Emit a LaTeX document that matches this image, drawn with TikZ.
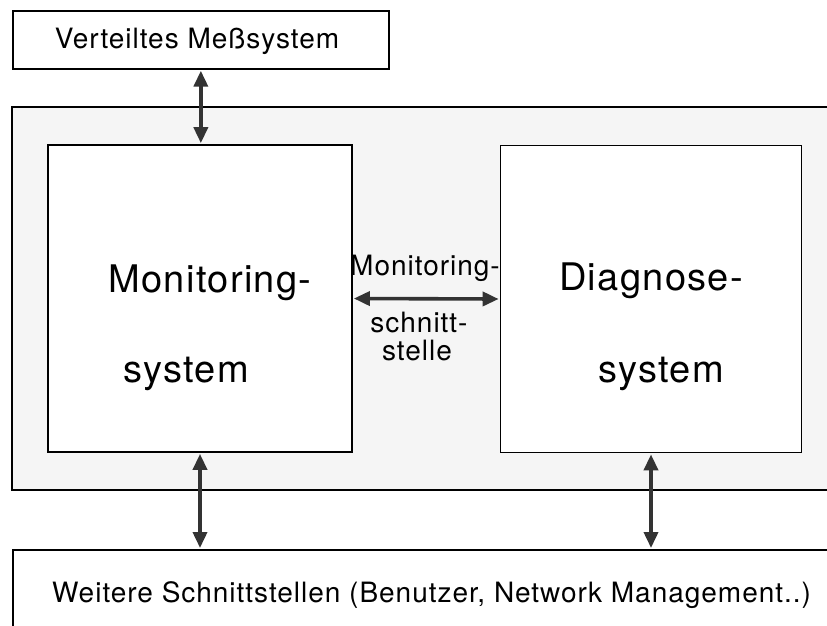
\documentclass[tikz,border=0pt]{standalone}
\usepackage{fontspec}
\setmainfont{TeX Gyre Heros}[LetterSpace=3.5]
\usetikzlibrary{arrows.meta}

\tikzset{
  box/.style={draw, line width=1.7pt, fill=white},
  dpfeil/.style={{Triangle[width=14pt,length=16pt]}-{Triangle[width=14pt,length=16pt]}, line width=3.6pt, draw=black!80, shorten >=1pt, shorten <=1pt},
  gross/.style={font=\fontsize{38pt}{38pt}\selectfont, anchor=base, inner sep=0pt},
  mittel/.style={font=\fontsize{28pt}{28pt}\selectfont, anchor=base, inner sep=0pt}
}

\begin{document}
\begin{tikzpicture}[x=1pt,y=-1pt]
  \useasboundingbox (0,0) rectangle (827,625);
  \clip (0,0) rectangle (827,625);
  \fill[black!4] (12,107) rectangle (860,490);
  \draw[line width=1.7pt] (860,107) -- (12,107) -- (12,490) -- (860,490);

  \node[box, minimum width=376pt, minimum height=58pt, anchor=north west] (mess) at (12,10) {};
  \node[box, minimum width=304pt, minimum height=307pt] (mon) at (200,298.5) {};
  \node[box, minimum width=301pt, minimum height=307pt] (diag) at (651,299) {};
  \node[box, minimum width=900pt, minimum height=120pt, anchor=north west] (weitere) at (12,549) {};

  \node[mittel] (messtext) at (197,48) {Verteiltes Meßsystem};
  \node[gross] (mon1) at (210,292) {Monitoring-};
  \node[gross] (mon2) at (186,382) {system};
  \node[gross] (diag1) at (651,290) {Diagnose-};
  \node[gross] (diag2) at (661,382) {system};
  \node[mittel] (ms1) at (425,275) {Monitoring-};
  \node[mittel] (ms2) at (419,332) {schnitt-};
  \node[mittel] (ms3) at (417,360) {stelle};
  \node[mittel, anchor=base west] (weiteretext) at (52,602) {Weitere Schnittstellen (Benutzer, Network Management..)};

  \draw[dpfeil] (mess.south) -- (mess.south |- mon.north);
  \draw[dpfeil] (mon.east) -- (diag.west);
  \draw[dpfeil] (mon.south) -- (mon.south |- weitere.north);
  \draw[dpfeil] (diag.south) -- (diag.south |- weitere.north);
\end{tikzpicture}
\end{document}
